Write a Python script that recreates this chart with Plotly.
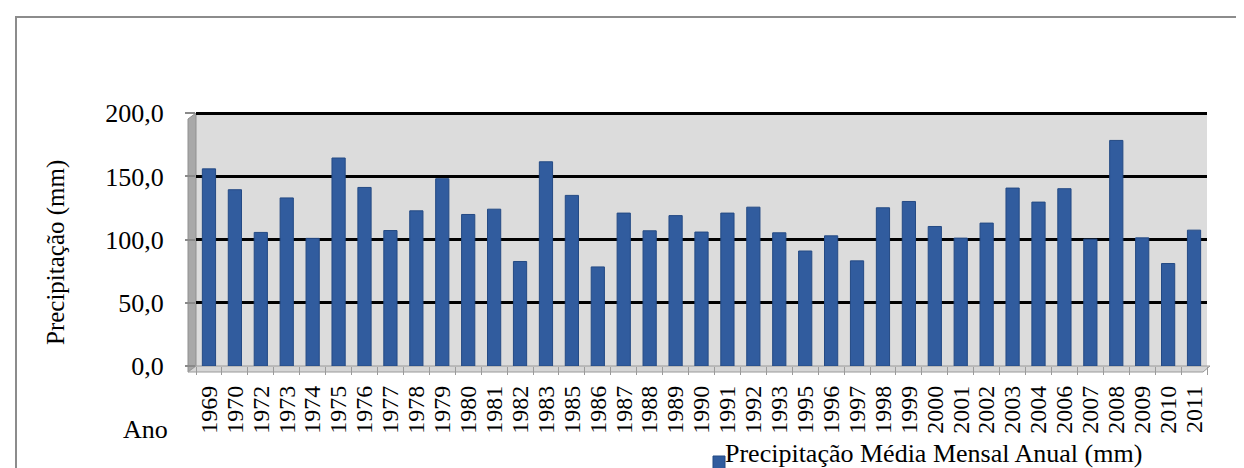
import plotly.graph_objects as go

years = ["1969","1970","1972","1973","1974","1975","1976","1977","1978","1979",
         "1980","1981","1982","1983","1985","1986","1987","1988","1989","1990",
         "1991","1992","1993","1995","1996","1997","1998","1999","2000","2001",
         "2002","2003","2004","2006","2007","2008","2009","2010","2011"]
precip = [156.0, 139.5, 105.7, 133.0, 101.0, 164.6, 141.3, 107.2, 122.8, 148.2,
          119.9, 124.1, 82.7, 161.6, 135.0, 78.4, 121.0, 107.0, 119.0, 106.0,
          121.0, 125.7, 105.4, 91.0, 103.0, 83.2, 125.2, 130.2, 110.4, 101.2,
          113.1, 140.8, 129.7, 140.3, 100.4, 178.5, 101.4, 81.1, 107.5]
y_tickvals = [0, 50, 100, 150, 200]
y_ticktext = ["0,0", "50,0", "100,0", "150,0", "200,0"]
series_name = "Precipitação Média Mensal Anual (mm)"
y_title = "Precipitação (mm)"
x_title = "Ano"

W, H = 1244, 468
L, R, T, B = 188, 45, 104, 110
PW, PH = W - L - R, H - T - B

def px(x):
    return (x - L) / PW

def py(y):
    return (H - B - y) / PH

FONT = "Liberation Serif, Times New Roman, serif"

fig = go.Figure()
fig.add_trace(go.Bar(
    x=years, y=precip, name=series_name,
    marker=dict(color="#315C9E", line=dict(color="#244a84", width=1)),
    showlegend=False,
))

shapes = [
    dict(type="rect", xref="paper", yref="paper",
         x0=px(8), x1=px(1236), y0=py(475), y1=py(9),
         line=dict(color="#8c8c8c", width=2), fillcolor="rgba(0,0,0,0)", layer="below"),
    dict(type="path", xref="paper", yref="paper",
         path=f"M{px(180)},{py(111)} L{px(188)},{py(105)} L{px(188)},{py(358)} L{px(180)},{py(364)} Z",
         fillcolor="#a8a8a8", line=dict(color="#909090", width=1), layer="below"),
    dict(type="path", xref="paper", yref="paper",
         path=f"M{px(188)},{py(358)} L{px(1202)},{py(358)} L{px(1195)},{py(364)} L{px(180)},{py(364)} Z",
         fillcolor="#d6d6d6", line=dict(color="#9a9a9a", width=1), layer="below"),
    dict(type="rect", xref="paper", yref="paper",
         x0=px(705), x1=px(717), y0=py(462), y1=py(448),
         fillcolor="#315C9E", line=dict(color="#244a84", width=1)),
]

annotations = [
    dict(text=y_title, xref="paper", yref="paper", x=px(48), y=py(245),
         showarrow=False, textangle=-90, font=dict(family=FONT, size=25, color="black"),
         xanchor="center", yanchor="middle"),
    dict(text=x_title, xref="paper", yref="paper", x=px(137), y=py(421),
         showarrow=False, font=dict(family=FONT, size=26, color="black"),
         xanchor="center", yanchor="middle"),
    dict(text=series_name, xref="paper", yref="paper", x=px(715), y=py(445),
         showarrow=False, font=dict(family=FONT, size=26, color="black"),
         xanchor="left", yanchor="middle"),
]

fig.update_layout(
    width=W, height=H,
    margin=dict(l=L, r=R, t=T, b=B, pad=0),
    paper_bgcolor="white",
    plot_bgcolor="#dcdcdc",
    bargap=0.49,
    shapes=shapes,
    annotations=annotations,
    font=dict(family=FONT, color="black"),
    xaxis=dict(
        type="category", tickmode="linear", dtick=1, tickangle=-90, tickson="boundaries",
        ticks="outside", ticklen=8, tickcolor="#9a9a9a", tickwidth=1,
        ticklabelstandoff=14,
        tickfont=dict(family=FONT, size=24, color="black"),
        showgrid=False, showline=False, zeroline=False,
    ),
    yaxis=dict(
        range=[0, 201], tickvals=y_tickvals, ticktext=y_ticktext,
        ticks="outside", ticklen=10, tickcolor="#8a8a8a", tickwidth=1.5,
        ticklabelstandoff=16,
        tickfont=dict(family=FONT, size=26, color="black"),
        showgrid=True, gridcolor="black", gridwidth=2.5,
        zeroline=False, showline=False,
    ),
)

fig.write_html("out.html")
